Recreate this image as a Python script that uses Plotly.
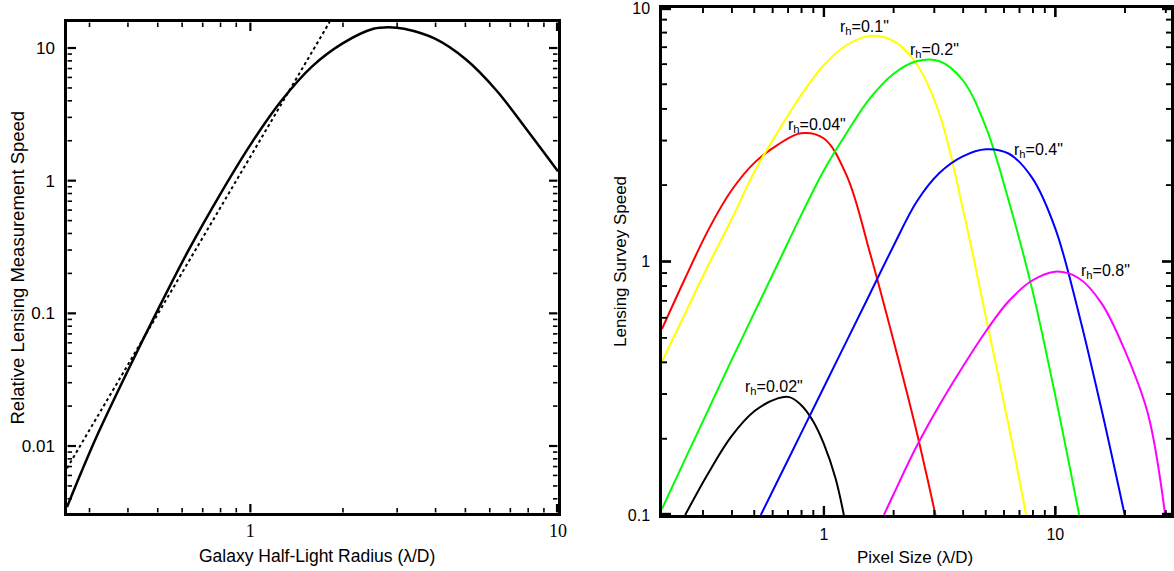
import numpy as np
import plotly.graph_objects as go

# ---------------- data ----------------
left_x = [0.2535, 0.2818, 0.3162, 0.3981, 0.5012, 0.6310, 0.7943, 1.0, 1.259, 1.585,
          1.995, 2.512, 2.818, 3.162, 3.981, 5.012, 6.310, 7.943, 10.0]
left_y = [0.003467, 0.00631, 0.01175, 0.03631, 0.1072, 0.3020, 0.7762, 1.862, 3.981, 7.244,
          10.84, 13.96, 14.35, 13.96, 11.75, 8.222, 4.786, 2.399, 1.175]
asym_x = [0.2535, 1.81]
asym_y = [0.0068, 15.7]

rh_labels = ['0.02', '0.04', '0.1', '0.2', '0.4', '0.8']
rh_colors = ['#000000', '#ff0000', '#ffff00', '#00ff00', '#0000ff', '#ff00ff']

px_002 = [0.2512, 0.3162, 0.3981, 0.5012, 0.6310, 0.7079, 0.7943, 0.8913, 1.0, 1.122, 1.219]
sp_002 = [0.1, 0.1462, 0.2042, 0.2570, 0.2884, 0.2917, 0.2723, 0.2371, 0.1905, 0.1396, 0.1]

px_004 = [0.1995, 0.2512, 0.3162, 0.3981, 0.5012, 0.6310, 0.7943, 1.0, 1.259, 1.585,
          1.995, 2.512, 3.034]
sp_004 = [0.5420, 0.8590, 1.330, 1.905, 2.455, 2.884, 3.206, 3.055, 2.163, 1.072,
          0.4898, 0.2138, 0.1]

px_01 = [0.1995, 0.2512, 0.3162, 0.3981, 0.5012, 0.6310, 0.7943, 1.0, 1.259, 1.585,
         1.995, 2.512, 3.162, 3.981, 5.012, 6.310, 7.482]
sp_01 = [0.4027, 0.6237, 0.9661, 1.462, 2.265, 3.236, 4.519, 5.957, 7.161, 7.762,
         7.413, 6.026, 3.802, 1.622, 0.6026, 0.2213, 0.1]

px_02 = [0.1995, 0.2512, 0.3162, 0.3981, 0.5012, 0.6310, 0.7943, 1.0, 1.259, 1.585,
         1.995, 2.512, 3.162, 3.981, 5.012, 6.310, 7.943, 10.0, 12.68]
sp_02 = [0.1057, 0.1660, 0.2600, 0.4074, 0.6310, 0.9772, 1.514, 2.291, 3.236, 4.416,
         5.495, 6.166, 6.166, 5.188, 3.388, 1.718, 0.7762, 0.2951, 0.1]

px_04 = [0.5333, 0.6310, 0.7943, 1.0, 1.259, 1.585, 1.995, 2.512, 3.162, 3.981,
         5.012, 6.310, 7.943, 10.0, 12.59, 15.85, 19.95]
sp_04 = [0.1, 0.1365, 0.2089, 0.3199, 0.4898, 0.7499, 1.148, 1.718, 2.239, 2.600,
         2.773, 2.661, 2.138, 1.349, 0.6310, 0.2600, 0.1]

px_08 = [1.816, 1.995, 2.512, 3.162, 3.981, 5.012, 6.310, 7.943, 10.0, 12.59,
         15.85, 19.95, 25.12, 29.85]
sp_08 = [0.1, 0.1202, 0.1862, 0.2723, 0.3846, 0.5309, 0.6998, 0.8414, 0.9120, 0.8610,
         0.6839, 0.4467, 0.2512, 0.1]

right_x_sets = [px_002, px_004, px_01, px_02, px_04, px_08]
right_y_sets = [sp_002, sp_004, sp_01, sp_02, sp_04, sp_08]

lab_x = [0.608, 0.931, 1.50, 3.01, 8.47, 16.5]
lab_y = [0.317, 3.45, 8.4, 6.82, 2.75, 0.917]

lx_tickvals = [1, 10]
lx_ticktext = ['1', '10']
ly_tickvals = [0.01, 0.1, 1, 10]
ly_ticktext = ['0.01', '0.1', '1', '10']
rx_tickvals = [1, 10]
rx_ticktext = ['1', '10']
ry_tickvals = [0.1, 1, 10]
ry_ticktext = ['0.1', '1', '10']

# ---------------- figure geometry ----------------
W, H = 1174, 571
PANELS = {
    # name: (xaxis, yaxis, x pixel domain, y pixel domain (top,bottom), log x range, log y range)
    'left': ('x', 'y', (67, 558), (22, 513), (np.log10(0.2535), 1.0), (-2.505, 1.196)),
    'right': ('x2', 'y2', (662, 1171), (8, 515), (-0.7, 1.5), (-1.0, 1.0)),
}
TICKS = {'left': (lx_tickvals, ly_tickvals), 'right': (rx_tickvals, ry_tickvals)}

fig = go.Figure()

fig.add_trace(go.Scatter(x=left_x, y=left_y, mode='lines', xaxis='x', yaxis='y',
                         line=dict(color='black', width=2.5, shape='spline', smoothing=1.0),
                         showlegend=False, hoverinfo='skip'))
fig.add_trace(go.Scatter(x=asym_x, y=asym_y, mode='lines', xaxis='x', yaxis='y',
                         line=dict(color='black', width=2, dash='dot'),
                         showlegend=False, hoverinfo='skip'))

for xs, ys, c in zip(right_x_sets, right_y_sets, rh_colors):
    fig.add_trace(go.Scatter(x=xs, y=ys, mode='lines', xaxis='x2', yaxis='y2',
                             line=dict(color=c, width=2, shape='spline', smoothing=1.0),
                             showlegend=False, hoverinfo='skip'))


# ---- inside tick marks on all four sides ----
def minor_values(lo, hi):
    out = []
    for e in range(int(np.floor(lo)) - 1, int(np.ceil(hi)) + 1):
        for m in range(2, 10):
            lv = np.log10(m) + e
            if lo + 0.004 < lv < hi - 0.004:
                out.append(lv)
    return out


MAJ_LEN, MIN_LEN = 9, 5
INSET = 0.6
shapes = []
for name, (xa, ya, (px0, px1), (py0, py1), (xlo, xhi), (ylo, yhi)) in PANELS.items():
    xt, yt = TICKS[name]
    xpp = (xhi - xlo) / (px1 - px0)
    ypp = (yhi - ylo) / (py1 - py0)
    x_major = [np.log10(v) for v in xt if xlo - 1e-9 <= np.log10(v) <= xhi + 1e-9]
    y_major = [np.log10(v) for v in yt if ylo - 1e-9 <= np.log10(v) <= yhi + 1e-9]
    x_major = [min(max(v, xlo + 1.0 * xpp), xhi - 1.0 * xpp) for v in x_major]
    y_major = [min(max(v, ylo + 1.0 * ypp), yhi - 1.0 * ypp) for v in y_major]
    groups = [(x_major, y_major, MAJ_LEN, 2.2),
              (minor_values(xlo, xhi), minor_values(ylo, yhi), MIN_LEN, 1.6)]
    for xs_l, ys_l, ln, w in groups:
        sides = []
        for base, sgn in [(ylo, 1), (yhi, -1)]:
            tx, ty = [], []
            for lv in xs_l:
                tx += [float(10 ** lv), float(10 ** lv), None]
                ty += [float(10 ** (base + sgn * INSET * ypp)),
                       float(10 ** (base + sgn * ln * ypp)), None]
            sides.append((tx, ty))
        for base, sgn in [(xlo, 1), (xhi, -1)]:
            tx, ty = [], []
            for lv in ys_l:
                ty += [float(10 ** lv), float(10 ** lv), None]
                tx += [float(10 ** (base + sgn * INSET * xpp)),
                       float(10 ** (base + sgn * ln * xpp)), None]
            sides.append((tx, ty))
        for tx, ty in sides:
            if tx:
                fig.add_trace(go.Scatter(x=tx, y=ty, mode='lines', xaxis=xa, yaxis=ya,
                                         line=dict(color='black', width=w, simplify=False),
                                         connectgaps=False, showlegend=False,
                                         hoverinfo='skip'))
        if name == 'right':
            # paper-referenced copies of the right panel ticks
            for lv in xs_l:
                xp = (px0 + (lv - xlo) / xpp) / W
                for yb, ye in [(H - py1, H - py1 + ln), (H - py0, H - py0 - ln)]:
                    shapes.append(dict(type='line', xref='paper', yref='paper',
                                       x0=xp, x1=xp, y0=yb / H, y1=ye / H,
                                       line=dict(color='black', width=w)))
            for lv in ys_l:
                yp = (H - (py1 - (lv - ylo) / ypp)) / H
                for xb, xe in [(px0, px0 + ln), (px1, px1 - ln)]:
                    shapes.append(dict(type='line', xref='paper', yref='paper',
                                       x0=xb / W, x1=xe / W, y0=yp, y1=yp,
                                       line=dict(color='black', width=w)))

SANS = 'Liberation Sans, Arial, sans-serif'
SERIF = 'Liberation Serif, Times New Roman, serif'


def axis(name, which, tv, tt, font, fsize, standoff):
    xa, ya, pxd, pyd, xr, yr = PANELS[name]
    if which == 'x':
        domain = [pxd[0] / W, pxd[1] / W]
        rng, anchor = list(xr), ya
    else:
        domain = [1 - pyd[1] / H, 1 - pyd[0] / H]
        rng, anchor = list(yr), xa
    return dict(type='log', domain=domain, range=rng, anchor=anchor, automargin=False,
                showline=True, linecolor='black', linewidth=2.5, mirror=True,
                ticks='', tickmode='array', tickvals=tv, ticktext=tt,
                tickfont=dict(family=font, size=fsize, color='black'),
                ticklabelstandoff=standoff, ticklabeloverflow='allow',
                showgrid=False, zeroline=False)


fig.update_layout(
    width=W, height=H, margin=dict(l=0, r=0, t=0, b=0, autoexpand=False),
    paper_bgcolor='white', plot_bgcolor='white',
    font=dict(family=SANS, color='black'),
    xaxis=axis('left', 'x', lx_tickvals, lx_ticktext, SERIF, 18, 0),
    yaxis=axis('left', 'y', ly_tickvals, ly_ticktext, SANS, 17, 6),
    xaxis2=axis('right', 'x', rx_tickvals, rx_ticktext, SANS, 16, 3),
    yaxis2=axis('right', 'y', ry_tickvals, ry_ticktext, SANS, 16, 6),
)

ann = []
ann.append(dict(text='Relative Lensing Measurement Speed', x=17 / W, y=1 - 267.5 / H,
                textangle=-90, font=dict(size=18.5)))
ann.append(dict(text='Galaxy Half-Light Radius (λ/D)', x=317 / W, y=1 - 556 / H,
                font=dict(size=17.5)))
ann.append(dict(text='Lensing Survey Speed', x=620 / W, y=1 - 262 / H,
                textangle=-90, font=dict(size=17)))
ann.append(dict(text='Pixel Size (λ/D)', x=915 / W, y=1 - 557 / H,
                font=dict(size=17)))
for a in ann:
    a.update(xref='paper', yref='paper', showarrow=False, xanchor='center', yanchor='middle')

for lbl, x, y in zip(rh_labels, lab_x, lab_y):
    ann.append(dict(text='r<sub>h</sub>=%s"' % lbl, x=np.log10(x), y=np.log10(y),
                    xref='x2', yref='y2', showarrow=False, xanchor='center',
                    yanchor='middle', font=dict(size=16, color='black')))

fig.update_layout(annotations=ann, shapes=shapes)
fig.write_html('out.html')
